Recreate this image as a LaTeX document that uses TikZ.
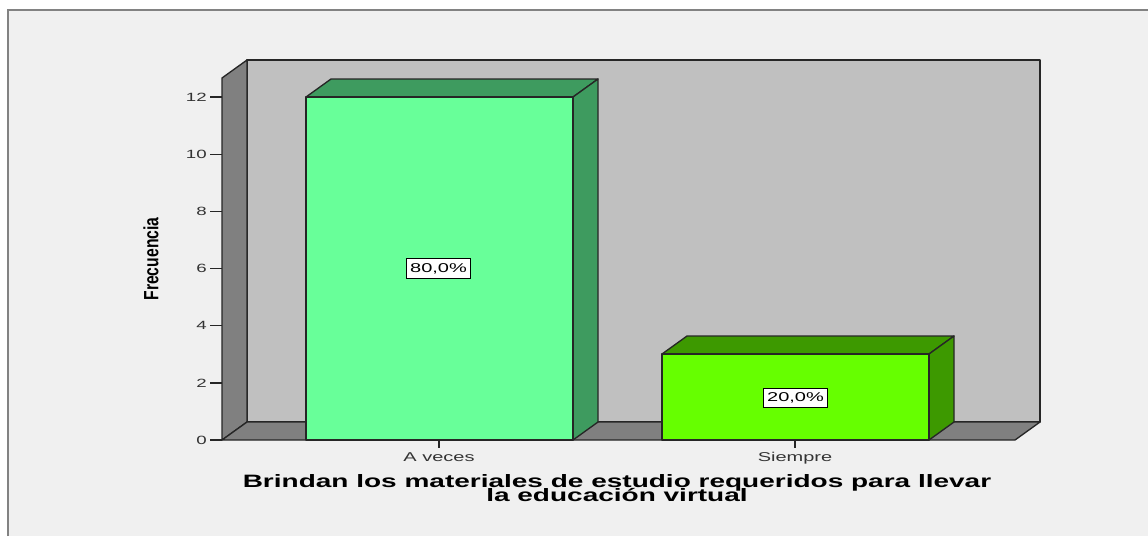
\documentclass[tikz,border=0pt]{standalone}
\usepackage{fontspec}
\setmainfont{Liberation Sans}
\usepackage{graphicx}
\usetikzlibrary{calc}

\definecolor{paneGray}{RGB}{240,240,240}
\definecolor{frameGray}{RGB}{130,130,130}
\definecolor{wallBack}{RGB}{192,192,192}
\definecolor{wallSide}{RGB}{128,128,128}
\definecolor{vecesFront}{RGB}{104,255,153}
\definecolor{vecesSide}{RGB}{62,155,95}
\definecolor{siempreFront}{RGB}{102,255,0}
\definecolor{siempreSide}{RGB}{61,153,0}

% SPSS output is squashed vertically
\newcommand{\squeezed}[1]{\scalebox{1}[0.64]{#1}}
\setlength{\lineskiplimit}{-30pt}

\begin{document}
\begin{tikzpicture}[x=0.75pt,y=0.75pt,yscale=-1,xscale=1,
  face/.style={draw=black!85, line width=1pt, line join=round},
  ticklab/.style={anchor=east, inner sep=0pt, font=\fontsize{14}{14}\selectfont, text=black!80},
  catlab/.style={anchor=base, inner sep=0pt, font=\fontsize{15}{15}\selectfont, text=black!80},
  pctbox/.style={draw=black, fill=white, line width=0.7pt, inner xsep=3pt, inner ysep=0pt, minimum height=14.5pt, font=\fontsize{15}{15}\selectfont},
  titlelab/.style={anchor=north, inner sep=0pt, align=center, font=\fontsize{21}{10.6pt}\selectfont\bfseries}]
\useasboundingbox (0,0) rectangle (1148,536);

%Frame
\fill[white] (0,0) rectangle (1148,536);
\fill[paneGray] (8,10) rectangle (1148,536);
\draw[frameGray, line width=1.6pt] (8,536) -- (8,10) -- (1148,10);

%Back wall
\draw[face, fill=wallBack] (247,60) rectangle (1040,422);
%Side wall
\draw[face, fill=wallSide] (222,440) -- (222,78) -- (247,60) -- (247,422) -- cycle;
%Floor
\draw[face, fill=wallSide] (222,440) -- (247,422) -- (1040,422) -- (1015,440) -- cycle;

%Y axis ticks
\foreach \v in {0,2,...,12}{
  \draw[black!85, line width=1pt] (210,{440-28.583*\v}) -- (222,{440-28.583*\v});
  \node[ticklab] (ytick\v) at (207,{440-28.583*\v}) {\squeezed{\v}};
}

%Bar A veces
\draw[face, fill=vecesSide] (306,97) -- (331,79) -- (598,79) -- (573,97) -- cycle;
\draw[face, fill=vecesSide] (573,97) -- (598,79) -- (598,422) -- (573,440) -- cycle;
\draw[face, fill=vecesFront] (306,97) rectangle (573,440);

%Bar Siempre
\draw[face, fill=siempreSide] (662,354) -- (687,336) -- (954,336) -- (929,354) -- cycle;
\draw[face, fill=siempreSide] (929,354) -- (954,336) -- (954,422) -- (929,440) -- cycle;
\draw[face, fill=siempreFront] (662,354) rectangle (929,440);

%Category ticks
\draw[black!85, line width=1pt] (439,440) -- (439,448);
\draw[black!85, line width=1pt] (795,440) -- (795,448);

% Text Node
\node[pctbox] (pctVeces) at (438.5,268.5) {\squeezed{80,0\%}};
% Text Node
\node[pctbox] (pctSiempre) at (795.5,398) {\squeezed{20,0\%}};
% Text Node
\node[catlab] (catVeces) at (439,461) {\squeezed{A veces}};
% Text Node
\node[catlab] (catSiempre) at (795,461) {\squeezed{Siempre}};
% Text Node
\node[inner sep=0pt, rotate=90, font=\fontsize{15.5}{15.5}\selectfont\bfseries] (axisFrec) at (151,259) {\scalebox{0.76}[1]{Frecuencia}};
% Text Node
\node[titlelab] (chartTitle) at (617,474) {\squeezed{Brindan los materiales de estudio requeridos para llevar}\\\squeezed{la educación virtual}};

\end{tikzpicture}
\end{document}
